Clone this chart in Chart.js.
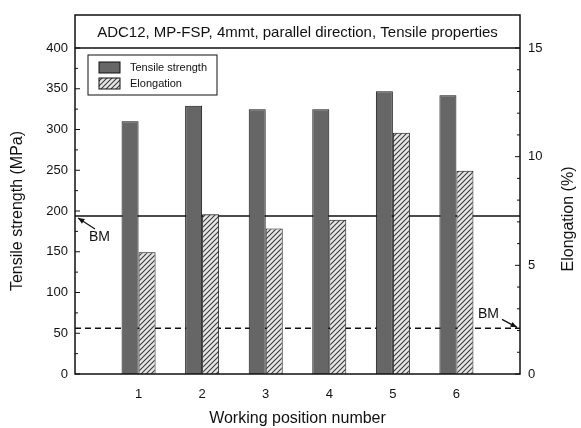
<!DOCTYPE html>
<html>
<head>
<meta charset="utf-8">
<script src="https://cdn.jsdelivr.net/npm/chart.js@4.4.0/dist/chart.umd.min.js"></script>
<style>
  html, body { margin: 0; padding: 0; background: #fff; }
</style>
</head>
<body>
<canvas id="chartTensile" width="581" height="428"></canvas>
<script>
// datos
const posiciones = ["1", "2", "3", "4", "5", "6"];
const resistencia = [310, 329, 325, 325, 347, 342];   // MPa
const elongacion = [5.6, 7.35, 6.7, 7.1, 11.1, 9.35]; // %
const bmResistencia = 194;
const bmElongacion = 2.1;
const titulo = "ADC12, MP-FSP, 4mmt, parallel direction, Tensile properties";
const tituloDerecho = "Elongation (%)";

// una posicion vacia a cada lado para que 1..6 queden como en el original
const etiquetasX = ["", ...posiciones, ""];

function trama() {
  const c = document.createElement("canvas");
  c.width = 5; c.height = 5;
  const g = c.getContext("2d");
  g.fillStyle = "#e6e6e6";
  g.fillRect(0, 0, 5, 5);
  g.strokeStyle = "#3a3a3a";
  g.lineWidth = 1.1;
  g.beginPath();
  g.moveTo(0, 5); g.lineTo(5, 0);
  g.moveTo(-2.5, 2.5); g.lineTo(2.5, -2.5);
  g.moveTo(2.5, 7.5); g.lineTo(7.5, 2.5);
  g.stroke();
  return g.createPattern(c, "repeat");
}
const rayado = trama();

Chart.defaults.font.family = "'Liberation Sans', Arial, sans-serif";
Chart.defaults.color = "#111";

const marco = {
  id: "marco",
  beforeDatasetsDraw(chart) {
    const { ctx, chartArea: a, scales } = chart;
    ctx.save();
    ctx.strokeStyle = "#111";
    ctx.lineWidth = 1.5;
    // linea BM resistencia
    const y1 = scales.y.getPixelForValue(bmResistencia);
    ctx.beginPath(); ctx.moveTo(a.left, y1); ctx.lineTo(a.right, y1); ctx.stroke();
    // linea BM elongacion
    const y2 = scales.y1.getPixelForValue(bmElongacion);
    ctx.setLineDash([6, 4]);
    ctx.beginPath(); ctx.moveTo(a.left, y2); ctx.lineTo(a.right, y2); ctx.stroke();
    ctx.restore();
  },
  afterDraw(chart) {
    const { ctx, chartArea: a, scales } = chart;
    ctx.save();
    ctx.strokeStyle = "#111";
    ctx.fillStyle = "#111";
    ctx.lineWidth = 1.5;
    const arriba = a.top - 33;
    ctx.strokeRect(a.left, arriba, a.right - a.left, a.bottom - arriba);
    ctx.beginPath(); ctx.moveTo(a.left, a.top); ctx.lineTo(a.right, a.top); ctx.stroke();

    ctx.font = "15px 'Liberation Sans', Arial, sans-serif";
    ctx.textAlign = "center";
    ctx.textBaseline = "middle";
    ctx.fillText(titulo, (a.left + a.right) / 2, (arriba + a.top) / 2 + 1);

    // titulo del eje derecho, leido de abajo hacia arriba
    ctx.save();
    ctx.font = "16px 'Liberation Sans', Arial, sans-serif";
    ctx.translate(chart.width - 12, (a.top + a.bottom) / 2 + 8);
    ctx.rotate(-Math.PI / 2);
    ctx.fillText(tituloDerecho, 0, 0);
    ctx.restore();

    // marcas hacia dentro
    ctx.lineWidth = 1;
    for (let v = 0; v <= 400; v += 25) {
      const y = scales.y.getPixelForValue(v);
      const l = v % 50 === 0 ? 5 : 3;
      ctx.beginPath(); ctx.moveTo(a.left, y); ctx.lineTo(a.left + l, y); ctx.stroke();
    }
    for (let v = 0; v <= 15; v += 1) {
      const y = scales.y1.getPixelForValue(v);
      const l = v % 5 === 0 ? 5 : 3;
      ctx.beginPath(); ctx.moveTo(a.right, y); ctx.lineTo(a.right - l, y); ctx.stroke();
    }

    // leyenda
    const lx = a.left + 13, ly = a.top + 7;
    ctx.lineWidth = 1;
    ctx.strokeRect(lx, ly, 129, 40);
    ctx.font = "11px 'Liberation Sans', Arial, sans-serif";
    ctx.textAlign = "left";
    chart.data.datasets.forEach((d, i) => {
      const sy = ly + 7 + i * 16;
      ctx.fillStyle = d.backgroundColor;
      ctx.fillRect(lx + 11, sy, 21, 11);
      ctx.strokeRect(lx + 11, sy, 21, 11);
      ctx.fillStyle = "#111";
      ctx.fillText(d.label, lx + 42, sy + 6);
    });

    // anotaciones BM
    ctx.font = "14px 'Liberation Sans', Arial, sans-serif";
    const yb = scales.y.getPixelForValue(bmResistencia);
    ctx.fillText("BM", a.left + 14, yb + 21);
    flecha(ctx, a.left + 20, yb + 13, a.left + 3, yb + 2);
    const ye = scales.y1.getPixelForValue(bmElongacion);
    ctx.fillText("BM", a.right - 42, ye - 14);
    flecha(ctx, a.right - 18, ye - 9, a.right - 3, ye - 1);
    ctx.restore();
  }
};

function flecha(ctx, x0, y0, x1, y1) {
  const ang = Math.atan2(y1 - y0, x1 - x0);
  ctx.lineWidth = 1.2;
  ctx.beginPath(); ctx.moveTo(x0, y0); ctx.lineTo(x1, y1); ctx.stroke();
  ctx.beginPath();
  ctx.moveTo(x1, y1);
  ctx.lineTo(x1 - 7 * Math.cos(ang - 0.4), y1 - 7 * Math.sin(ang - 0.4));
  ctx.lineTo(x1 - 7 * Math.cos(ang + 0.4), y1 - 7 * Math.sin(ang + 0.4));
  ctx.closePath();
  ctx.fill();
}

new Chart(document.getElementById("chartTensile"), {
  type: "bar",
  data: {
    labels: etiquetasX,
    datasets: [{
      label: "Tensile strength",
      data: [null, ...resistencia, null],
      yAxisID: "y",
      backgroundColor: "#666666",
      borderColor: "#111",
      borderWidth: 1,
      barPercentage: 1,
      categoryPercentage: 0.535
    }, {
      label: "Elongation",
      data: [null, ...elongacion, null],
      yAxisID: "y1",
      backgroundColor: rayado,
      borderColor: "#111",
      borderWidth: 1,
      barPercentage: 1,
      categoryPercentage: 0.535
    }]
  },
  options: {
    responsive: false,
    animation: false,
    layout: { padding: { top: 48 } },
    plugins: { legend: { display: false }, tooltip: { enabled: false } },
    scales: {
      x: {
        offset: false,
        grid: { display: false, drawTicks: false },
        border: { display: false },
        ticks: { font: { size: 13 }, padding: 13, autoSkip: false, maxRotation: 0 },
        title: { display: true, text: "Working position number", font: { size: 16 }, padding: { top: 0, bottom: 0 } },
        afterFit(s) { s.height = 54; }
      },
      y: {
        position: "left",
        min: 0, max: 400,
        grid: { display: false, drawTicks: false },
        border: { display: false },
        ticks: { stepSize: 50, font: { size: 13 }, padding: 7 },
        title: { display: true, text: "Tensile strength (MPa)", font: { size: 16 }, padding: { top: 8, bottom: 8 } },
        afterFit(s) { s.width = 75; }
      },
      y1: {
        position: "right",
        min: 0, max: 15,
        grid: { display: false, drawTicks: false },
        border: { display: false },
        ticks: { stepSize: 5, font: { size: 13 }, padding: 8 },
        afterFit(s) { s.width = 61; }
      }
    }
  },
  plugins: [marco]
});
</script>
</body>
</html>
